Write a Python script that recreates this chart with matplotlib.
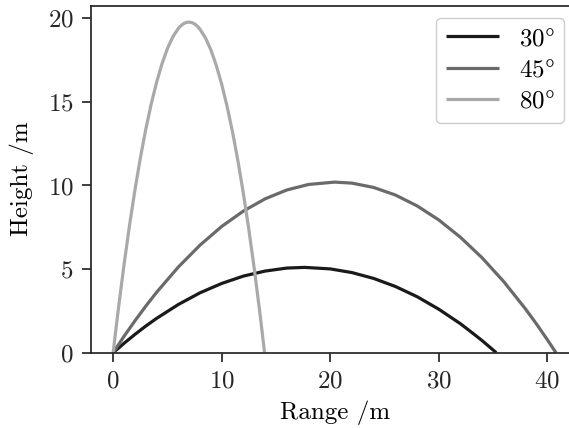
import matplotlib
matplotlib.use("Agg")
from matplotlib import pyplot as plt

# points (range /m, height /m)
x30 = [0, 1, 2, 3, 4, 6, 8, 10, 12, 14, 16, 17.65, 20, 22, 24, 26, 28, 30, 32, 33, 34,
       35.3]
y30 = [0, 0.56, 1.09, 1.59, 2.05, 2.88, 3.58, 4.14, 4.58, 4.88, 5.06, 5.10, 5.01, 4.79,
       4.44, 3.96, 3.35, 2.60, 1.73, 1.23, 0.72, 0]

x45 = [0, 1, 2, 3, 4, 6, 8, 10, 12, 14, 16, 18, 20.4, 22, 24, 26, 28, 30, 32, 34, 36,
       38, 39, 40, 40.8]
y45 = [0, 0.98, 1.90, 2.78, 3.61, 5.12, 6.43, 7.55, 8.47, 9.20, 9.73, 10.06, 10.20,
       10.14, 9.88, 9.43, 8.78, 7.94, 6.90, 5.67, 4.24, 2.61, 1.72, 0.78, 0]

x80 = [0, 0.25, 0.5, 1, 1.5, 2, 2.5, 3, 3.5, 4, 4.5, 5, 5.5, 6, 6.25, 6.5, 6.75, 6.975,
       7.25, 7.5, 7.75, 8, 8.5, 9, 9.5, 10, 10.5, 11, 11.5, 12, 12.5, 13, 13.5, 13.95]
y80 = [0, 1.39, 2.73, 5.26, 7.59, 9.71, 11.63, 13.35, 14.86, 16.17, 17.28, 18.19, 18.89,
       19.39, 19.56, 19.68, 19.75, 19.77, 19.74, 19.66, 19.53, 19.34, 18.83, 18.11,
       17.18, 16.05, 14.72, 13.19, 11.45, 9.51, 7.37, 5.02, 2.47, 0]

labels = [r"$30\degree$", r"$45\degree$", r"$80\degree$"]
colors = ["#1a1a1a", "#6a6a6a", "#a9a9a9"]

plt.rcParams.update({
    "font.family": "serif",
    "font.serif": ["cmr10"],
    "mathtext.fontset": "cm",
    "axes.formatter.use_mathtext": True,
    "font.size": 18,
    "axes.edgecolor": "#262626",
    "axes.linewidth": 1.25,
    "xtick.major.width": 1.25,
    "ytick.major.width": 1.25,
    "xtick.major.size": 6.5,
    "ytick.major.size": 6.5,
    "xtick.major.pad": 6,
    "ytick.major.pad": 6,
    "xtick.color": "#262626",
    "ytick.color": "#262626",
    "lines.solid_capstyle": "butt",
})

fig = plt.figure(figsize=(5.69, 4.28), dpi=100)
ax = fig.add_axes([0.160, 0.176, 0.856, 0.811])

for xs, ys, lab, c in zip([x30, x45, x80], [y30, y45, y80], labels, colors):
    ax.plot(xs, ys, color=c, lw=2.3, label=lab)

ax.set_ylim(bottom=0)
ax.set_xticks([0, 10, 20, 30, 40])
ax.set_yticks([0, 5, 10, 15, 20])
ax.set_xlabel("Range /m", labelpad=6)
ax.set_ylabel("Height /m", labelpad=10)

leg = ax.legend(loc="upper right", bbox_to_anchor=(0.972, 0.965), borderaxespad=0,
                frameon=True, fancybox=True, framealpha=1, edgecolor="#cccccc",
                handlelength=2.1, labelspacing=0.35)

fig.savefig("out.png", dpi=100)
